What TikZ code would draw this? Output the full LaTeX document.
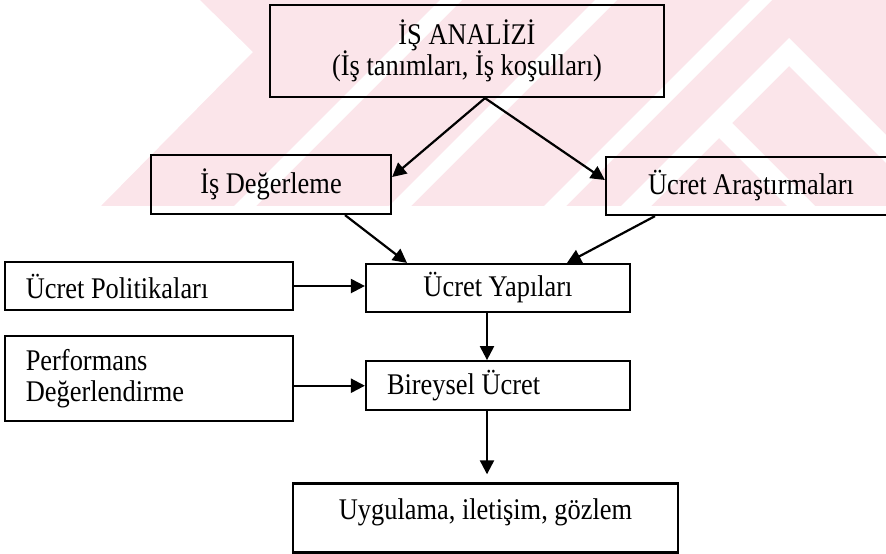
\documentclass[tikz,border=0pt]{standalone}
\usepackage{fontspec}
\setmainfont{Liberation Serif}[FakeStretch=0.88]
\usetikzlibrary{arrows.meta,positioning}
\definecolor{wmpink}{RGB}{251,229,234}

\begin{document}
\begin{tikzpicture}[
  x=0.5pt, y=-0.5pt,
  >={Triangle[length=7pt,width=7pt]},
  line width=1.1pt,
  every node/.style={draw,inner sep=0pt,font=\fontsize{15pt}{15.75pt}\selectfont},
  node distance=23.5pt,
  lbox/.style={align=flush left,inner xsep=10.5pt},
  ]
  \useasboundingbox (0,0) rectangle (886,553);

  % watermark behind the boxes
  \begin{scope}
    \clip (200,0) -- (253,52) -- (101,206) -- (886,206) -- (886,0) -- cycle;
    \fill[wmpink] (0,0) rectangle (886,206);
    \foreach \c in {440,595,750}
      \fill[white] (\c,0) -- (\c+22,0) -- (\c-278,300) -- (\c-300,300) -- cycle;
    \foreach \ax/\ay in {789/38,719/110}
      \fill[white] (\ax-250,\ay+250) -- (\ax,\ay) -- (\ax+250,\ay+250)
        -- (\ax+250,\ay+278) -- (\ax,\ay+28) -- (\ax-250,\ay+278) -- cycle;
  \end{scope}

  \node[minimum width=197pt, minimum height=46pt, align=center] (IA) at (467,51) {İŞ ANALİZİ\\(İş tanımları, İş koşulları)};
  \node[minimum width=120pt, minimum height=29.5pt] (ID) at (271,184.5) {İş Değerleme};
  \node[minimum width=145pt, minimum height=29pt] (UA) at (751,186) {Ücret Araştırmaları};
  \node[minimum width=132pt, minimum height=24pt] (UY) at (498,288) {Ücret Yapıları};
  \node[lbox, text width=123pt, minimum height=24pt, left=35.5pt of UY, yshift=1pt] (UP) {Ücret Politikaları};
  \node[lbox, text width=111pt, minimum height=24.5pt, below=of UY] (BU) {Bireysel Ücret};
  \node[lbox, text width=123pt, minimum height=42.5pt, left=35.5pt of BU, yshift=3.5pt] (PD) {Performans\\Değerlendirme};
  \node[minimum width=192.5pt, minimum height=34.5pt, text height=10.2pt, text depth=8.7pt, below=35.5pt of BU, xshift=-6.25pt] (UG) {Uygulama, iletişim, gözlem};

  \coordinate (IAs) at ([xshift=9pt]IA.south);

  \draw [->] (IAs) -- ([yshift=3.75pt]ID.east);
  \draw [->] (IAs) -- ([yshift=3pt]UA.west);
  \draw [->] ([xshift=37pt]ID.south) -- ([xshift=-45.5pt]UY.north);
  \draw [->] ([xshift=-48pt]UA.south) -- ([xshift=34.5pt]UY.north);
  \draw [->] (UP.east) -- (UP.east -| UY.west);
  \draw [->] (PD.east |- BU.west) -- (BU.west);
  \draw [->] ([xshift=-5.5pt]UY.south) -- ([xshift=-5.5pt]BU.north);
  \draw [->, shorten >=4pt] ([xshift=-5.5pt]BU.south) -- ([xshift=-5.5pt]BU.south |- UG.north);

\end{tikzpicture}
\end{document}
